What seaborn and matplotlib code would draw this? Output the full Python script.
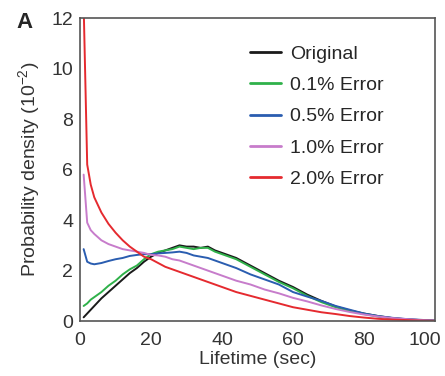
import numpy as np
import pandas as pd
import seaborn as sns
import matplotlib.pyplot as plt
from matplotlib.transforms import ScaledTranslation

# lifetime bins (sec)
lifetime = [1, 2, 3, 4, 6, 8, 10, 12, 14, 16, 18, 20, 22, 24, 26, 28, 30, 32, 34, 36,
            38, 40, 44, 48, 52, 56, 60, 64, 68, 72, 76, 80, 84, 88, 92, 96, 100]

original = [0.15, 0.3, 0.45, 0.6, 0.9, 1.15, 1.4, 1.65, 1.9, 2.1, 2.35, 2.55, 2.7, 2.8,
            2.9, 3.0, 2.95, 2.95, 2.9, 2.95, 2.8, 2.7, 2.5, 2.2, 1.9, 1.6, 1.35, 1.05,
            0.8, 0.58, 0.42, 0.3, 0.2, 0.12, 0.07, 0.04, 0.02]
err_01 = [0.6, 0.7, 0.85, 0.95, 1.15, 1.4, 1.6, 1.85, 2.05, 2.2, 2.45, 2.65, 2.75, 2.8,
          2.85, 2.95, 2.9, 2.85, 2.9, 2.9, 2.75, 2.65, 2.45, 2.15, 1.85, 1.55, 1.3, 1.0,
          0.75, 0.55, 0.4, 0.28, 0.18, 0.11, 0.06, 0.03, 0.01]
err_05 = [2.85, 2.35, 2.28, 2.25, 2.3, 2.38, 2.45, 2.5, 2.58, 2.62, 2.65, 2.65, 2.68, 2.7,
          2.72, 2.75, 2.7, 2.6, 2.55, 2.5, 2.4, 2.3, 2.1, 1.85, 1.65, 1.45, 1.15, 0.97,
          0.8, 0.6, 0.45, 0.3, 0.2, 0.13, 0.08, 0.05, 0.02]
err_10 = [5.8, 3.9, 3.6, 3.45, 3.2, 3.05, 2.95, 2.85, 2.8, 2.75, 2.7, 2.62, 2.6, 2.55,
          2.45, 2.4, 2.3, 2.2, 2.1, 2.0, 1.9, 1.8, 1.6, 1.45, 1.25, 1.1, 0.92, 0.78,
          0.62, 0.48, 0.36, 0.26, 0.18, 0.12, 0.08, 0.04, 0.02]
err_20 = [12.5, 6.2, 5.4, 4.9, 4.3, 3.85, 3.5, 3.2, 2.95, 2.75, 2.55, 2.45, 2.3, 2.15,
          2.05, 1.95, 1.85, 1.75, 1.65, 1.55, 1.45, 1.35, 1.15, 1.0, 0.85, 0.7, 0.55,
          0.45, 0.35, 0.28, 0.2, 0.14, 0.09, 0.06, 0.04, 0.02, 0.01]

labels = ['Original', '0.1% Error', '0.5% Error', '1.0% Error', '2.0% Error']
colors = ['#1a1a1a', '#2fb14a', '#2a5db0', '#c77ccb', '#e52a2f']

frames = []
for lab, vals in zip(labels, [original, err_01, err_05, err_10, err_20]):
    frames.append(pd.DataFrame({'Lifetime': lifetime, 'Density': vals, 'Series': lab}))
df = pd.concat(frames, ignore_index=True)

sns.set_style('white')
plt.rcParams['font.family'] = ['Liberation Sans', 'DejaVu Sans']
plt.rcParams['mathtext.default'] = 'regular'

fig = plt.figure(figsize=(4.45, 3.76), dpi=100)
ax = fig.add_axes([0.18, 0.146, 0.7975, 0.806])
sns.lineplot(data=df, x='Lifetime', y='Density', hue='Series', hue_order=labels,
             palette=colors, linewidth=1.4, ax=ax)

ax.set_xlim(0, 100)
ax.set_ylim(0, 12)
ax.set_xticks([0, 20, 40, 60, 80, 100])
ax.set_yticks([0, 2, 4, 6, 8, 10, 12])
ax.tick_params(direction='in', length=3, labelsize=14, colors='#333333')
ax.tick_params(axis='x', pad=8)
ax.tick_params(axis='y', pad=5)
for s in ax.spines.values():
    s.set_color('#555555')
    s.set_linewidth(1.2)
ax.set_xlabel('Lifetime (sec)', fontsize=14, color='#333333', labelpad=1)
ax.set_ylabel('Probability density (10$^{-2}$)', fontsize=14, color='#333333', labelpad=7)

# pull the last x tick label inward so it stays inside the figure
last = ax.get_xticklabels()[-1]
last.set_transform(last.get_transform() + ScaledTranslation(-10 / 100, 0, fig.dpi_scale_trans))

leg = ax.legend(loc='upper left', frameon=False, fontsize=14, handlelength=1.6,
                handletextpad=0.45, labelspacing=0.7, borderpad=0, borderaxespad=0,
                bbox_to_anchor=(0.479, 0.91))
for line in leg.get_lines():
    line.set_linewidth(2)

fig.text(0.038, 0.926, 'A', fontsize=16, fontweight='bold')

plt.savefig('out.png', dpi=100)
